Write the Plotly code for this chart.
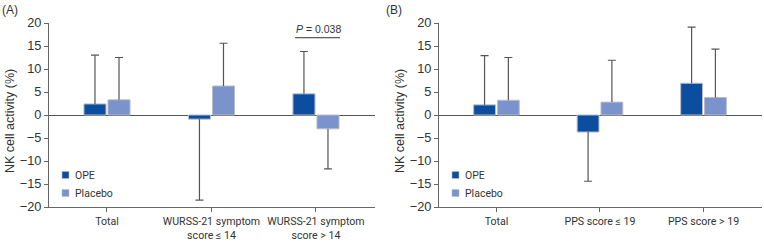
import plotly.graph_objects as go
from plotly.subplots import make_subplots

# ---------------- data ----------------
cats_a = ["Total", "WURSS-21 symptom<br>score ≤ 14", "WURSS-21 symptom<br>score > 14"]
ope_a = [2.4, -0.9, 4.6]
ope_a_err = [13.0, -18.5, 13.8]        # end of error whisker
plc_a = [3.3, 6.3, -3.0]
plc_a_err = [12.5, 15.6, -11.7]

cats_b = ["Total", "PPS score ≤ 19", "PPS score > 19"]
ope_b = [2.2, -3.7, 6.9]
ope_b_err = [12.9, -14.4, 19.1]
plc_b = [3.2, 2.8, 3.8]
plc_b_err = [12.5, 11.9, 14.3]

series_names = ["OPE", "Placebo"]
y_ticks = [-20, -15, -10, -5, 0, 5, 10, 15, 20]
p_text = "<i>P</i> = 0.038"
p_category = 2
p_level = 16.8

# ---------------- style ----------------
W, H = 764, 242
C_OPE = "#0B4EA0"
C_PLC = "#7A93CC"
EDGE = "#B8BCC6"
ERR = "#555555"
AXIS = "#666666"
FONT_NUM = "Liberation Sans, Arial, sans-serif"
FONT_CAT = "Roboto, Noto Sans, sans-serif"


def px_x(p):
    return p / W


def px_y(p):
    return 1 - p / H


fig = make_subplots(rows=1, cols=2)

panels = [
    (1, cats_a, [(ope_a, ope_a_err), (plc_a, plc_a_err)]),
    (2, cats_b, [(ope_b, ope_b_err), (plc_b, plc_b_err)]),
]
colors = [C_OPE, C_PLC]

for col, cats, series in panels:
    for i, (vals, ends) in enumerate(series):
        up = [max(e - v, 0) if v >= 0 else 0 for v, e in zip(vals, ends)]
        down = [v - e if v < 0 else 0 for v, e in zip(vals, ends)]
        grp = series_names[i]
        fig.add_trace(go.Bar(
            x=cats, y=vals, name=series_names[i], offsetgroup=grp,
            marker=dict(color=colors[i], line=dict(color=EDGE, width=1)),
            error_y=dict(type="data", symmetric=False, array=up, arrayminus=down,
                         width=0, thickness=1.2, color=ERR),
            showlegend=False, hoverinfo="skip"), row=1, col=col)
        # invisible companion bar carrying only the whisker cap
        fig.add_trace(go.Bar(
            x=cats, y=ends, offsetgroup=grp,
            marker=dict(color="rgba(0,0,0,0)", line=dict(width=0)),
            error_y=dict(type="data", symmetric=False, array=[0] * len(ends),
                         arrayminus=[0] * len(ends), width=4, thickness=1.2, color=ERR),
            showlegend=False, hoverinfo="skip"), row=1, col=col)

dom_y = [px_y(207), px_y(23)]
axis_common = dict(showline=True, linecolor=AXIS, linewidth=1, ticks="outside",
                   ticklen=4, tickcolor=AXIS, showgrid=False, automargin=False)

fig.update_layout(
    width=W, height=H, margin=dict(l=0, r=0, t=0, b=0),
    paper_bgcolor="white", plot_bgcolor="white",
    barmode="group", bargap=0.54, bargroupgap=0.083,
    showlegend=False,
)

for n, (x0, x1) in zip(["", "2"], [(49, 375), (439, 762)]):
    fig.layout["xaxis" + n].update(
        domain=[px_x(x0), px_x(x1)], range=[-0.555, 2.565], zeroline=False,
        tickfont=dict(family=FONT_CAT, size=10.6, color="#333333"), **axis_common)
    fig.layout["yaxis" + n].update(
        domain=dom_y, range=[-20, 20], tickvals=y_ticks,
        zeroline=True, zerolinecolor="#555555", zerolinewidth=1,
        tickfont=dict(family=FONT_NUM, size=12.8, color="#333333"), **axis_common)

# significance bracket in panel A
fig.add_shape(type="line", xref="x", yref="y", x0=p_category - 0.2, x1=p_category + 0.23,
              y0=p_level, y1=p_level, line=dict(color="#333333", width=1))
fig.add_annotation(xref="x", yref="y", x=p_category + 0.02, y=p_level, text=p_text,
                   showarrow=False, yanchor="bottom", yshift=1,
                   font=dict(family=FONT_NUM, size=10.5, color="#333333"))

# panel labels and y titles
for lab, xp, ytx in [("(A)", 0, 10), ("(B)", 384, 400)]:
    fig.add_annotation(xref="paper", yref="paper", x=px_x(xp), y=px_y(1), text=lab,
                       showarrow=False, xanchor="left", yanchor="top",
                       font=dict(family=FONT_NUM, size=12, color="#333333"))
    fig.add_annotation(xref="paper", yref="paper", x=px_x(ytx), y=px_y(121),
                       text="NK cell activity (%)", textangle=-90, showarrow=False,
                       xanchor="center", yanchor="middle",
                       font=dict(family=FONT_NUM, size=12.5, color="#333333"))

# legends (square + label) for each panel
for ax0 in [49, 439]:
    for k, (nm, c) in enumerate(zip(series_names, colors)):
        cy = 175 + 18 * k
        fig.add_shape(type="rect", xref="paper", yref="paper",
                      x0=px_x(ax0 + 13), x1=px_x(ax0 + 20), y0=px_y(cy - 3.5), y1=px_y(cy + 3.5),
                      fillcolor=c, line=dict(color=EDGE, width=0.6))
        fig.add_annotation(xref="paper", yref="paper", x=px_x(ax0 + 24), y=px_y(cy),
                           text=nm, showarrow=False, xanchor="left", yanchor="middle",
                           font=dict(family=FONT_CAT, size=10.5, color="#333333"))

fig.write_html("out.html", config={"displayModeBar": False},
               post_script="document.body.style.margin='0';document.body.style.overflow='hidden';")
